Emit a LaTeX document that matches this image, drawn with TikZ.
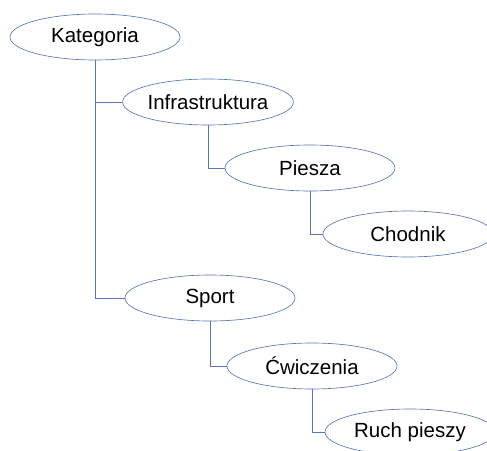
\documentclass[tikz,border=0pt]{standalone}
\usepackage{fontspec}
\setmainfont{Liberation Sans}
\usetikzlibrary{shapes.geometric}
\definecolor{edgeblue}{RGB}{88,118,182}
\tikzset{
  item/.style={ellipse, draw=edgeblue, line width=0.65pt, minimum width=170pt, minimum height=46pt, inner sep=0pt, font=\fontsize{20.5}{24}\selectfont, text=black},
  link/.style={draw=edgeblue, line width=0.65pt}
}
\begin{document}
\begin{tikzpicture}[x=1pt,y=-1pt]
\useasboundingbox (0,0) rectangle (487,450);
\node[item] (kat) at (95,37) {Kategoria};
\node[item] (inf) at (208,102) {Infrastruktura};
\node[item] (pie) at (310,168) {Piesza};
\node[item] (cho) at (408,234) {Chodnik};
\node[item] (spo) at (210,298) {Sport};
\node[item] (cwi) at (312,366) {Ćwiczenia};
\node[item] (ruc) at (410,432) {Ruch pieszy};
\draw[link] (kat.south) |- (inf.west);
\draw[link] (kat.south) |- (spo.west);
\draw[link] (inf.south) |- (pie.west);
\draw[link] (pie.south) |- (cho.west);
\draw[link] (spo.south) |- (cwi.west);
\draw[link] (cwi.south) |- (ruc.west);
\end{tikzpicture}
\end{document}
